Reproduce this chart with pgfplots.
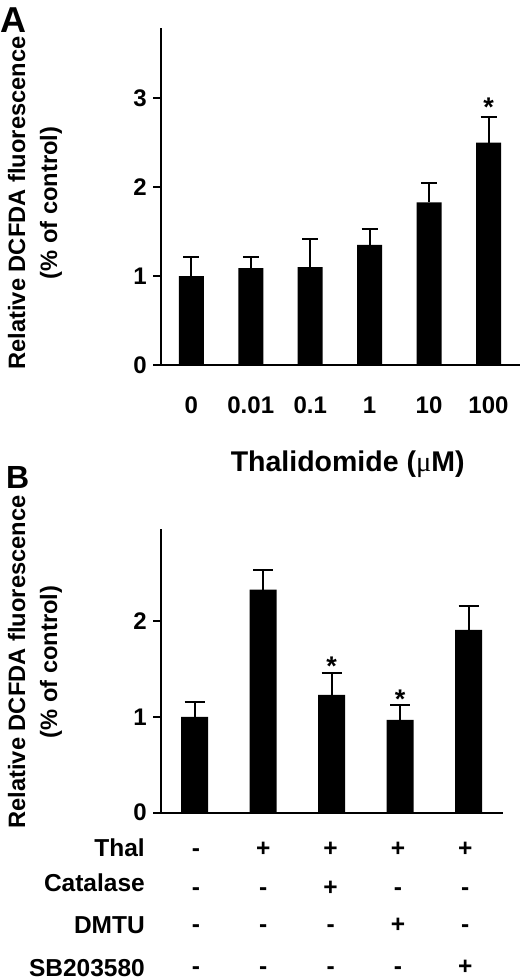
\documentclass[border=0pt]{standalone}
\usepackage{fontspec}
\setmainfont{Liberation Sans}
\newfontfamily\serifmu{Liberation Serif}
\usepackage{pgfplots}
\usepackage{pgfplotstable}
\pgfplotsset{compat=1.18}

% panel A: thalidomide dose
\pgfplotstableread{
x y e
0 1.00 0.21
1 1.09 0.12
2 1.10 0.32
3 1.35 0.18
4 1.83 0.22
5 2.50 0.29
}\dataA

% panel B: thal +/- inhibitors
\pgfplotstableread{
x y e
0 1.00 0.16
1 2.33 0.20
2 1.23 0.23
3 0.97 0.15
4 1.91 0.25
}\dataB

\newcommand{\fs}[1]{\fontsize{#1}{#1}\selectfont\bfseries}

\begin{document}
\begin{tikzpicture}[font=\bfseries]
\path[use as bounding box] (0,0) rectangle (520pt,-980pt);

\pgfplotsset{
  panel/.style={
    scale only axis,
    anchor=south west,
    clip=false,
    axis lines=left,
    axis line style={-, line width=2.2pt, black},
    ybar,
    ymin=0,
    tick align=outside,
    major tick length=8pt,
    ytick style={line width=2pt, black},
    xtick style={draw=none},
    ticklabel style={font=\fs{24pt}},
    yticklabel style={anchor=east, inner sep=0pt, xshift=-6pt},
    /pgf/number format/assume math mode=true,
  },
  bars/.style={
    fill=black, draw=none,
    error bars/.cd,
      y dir=plus, y explicit,
      error bar style={line width=2pt, black},
      error mark options={rotate=90, line width=2pt, black, mark size=#1},
  },
}

% ---------- A ----------
\begin{axis}[panel,
  at={(161pt,-365pt)},
  width=359pt, height=337pt,
  xmin=-0.51, xmax=5.53, ymax=3.79,
  bar width=25pt,
  xtick={0,...,5},
  xticklabels={0,0.01,0.1,1,10,100},
  xticklabel style={anchor=base, yshift=-40pt},
  ytick={0,1,2,3},
  xlabel={Thalidomide ({\serifmu\mdseries μ}M)},
  xlabel style={font=\fs{28.5pt}, anchor=base, at={(axis description cs:0.52,-0.317)}},
]
\addplot[bars=8pt] table[x=x, y=y, y error=e] {\dataA};
\node[font=\fs{27pt}, anchor=base, inner sep=0pt] at (axis cs:5,2.80) {*};
\end{axis}

% ---------- B ----------
\begin{axis}[panel,
  at={(161pt,-812.7pt)},
  width=342pt, height=283.4pt,
  xmin=-0.49, xmax=4.5, ymax=2.96,
  bar width=27pt,
  xtick=\empty,
  ytick={0,1,2},
]
\addplot[bars=10pt] table[x=x, y=y, y error=e] {\dataB};
\node[font=\fs{27pt}, anchor=base, inner sep=0pt] at (axis cs:2,1.43) {*};
\node[font=\fs{27pt}, anchor=base, inner sep=0pt] at (axis cs:3,1.09) {*};
\end{axis}

% y labels
\node[rotate=90, align=center, font=\fs{23.7pt}, inner sep=0pt,
  execute at begin node={\baselineskip=32pt}] at (35pt,-203pt)
  {Relative DCFDA fluorescence\\(\% of control)};
\node[rotate=90, align=center, font=\fs{23.7pt}, inner sep=0pt,
  execute at begin node={\baselineskip=32pt}] at (35pt,-662pt)
  {Relative DCFDA fluorescence\\(\% of control)};

% panel letters
\node[font=\fs{36pt}, anchor=base west, inner sep=0pt] at (0pt,-32pt) {A};
\node[font=\fs{32pt}, anchor=base west, inner sep=0pt] at (6pt,-488pt) {B};

% treatment table under B
\foreach \lab/\yy in {Thal/856.7, Catalase/891.7, DMTU/933.3, SB203580/976}
  \node[font=\fs{24.5pt}, anchor=base east, inner sep=0pt] at (145pt,-\yy pt) {\lab};
\foreach \row/\yy in {{-,+,+,+,+}/856, {-,-,+,-,-}/895, {-,-,-,+,-}/932.5, {-,-,-,-,+}/974}{
  \foreach \s [count=\i from 0] in \row {
    \pgfmathsetmacro{\xx}{196+\i*67.3}
    \node[font=\fs{24.5pt}, anchor=base, inner sep=0pt] at (\xx pt,-\yy pt) {\s};
  }
}
\end{tikzpicture}
\end{document}
